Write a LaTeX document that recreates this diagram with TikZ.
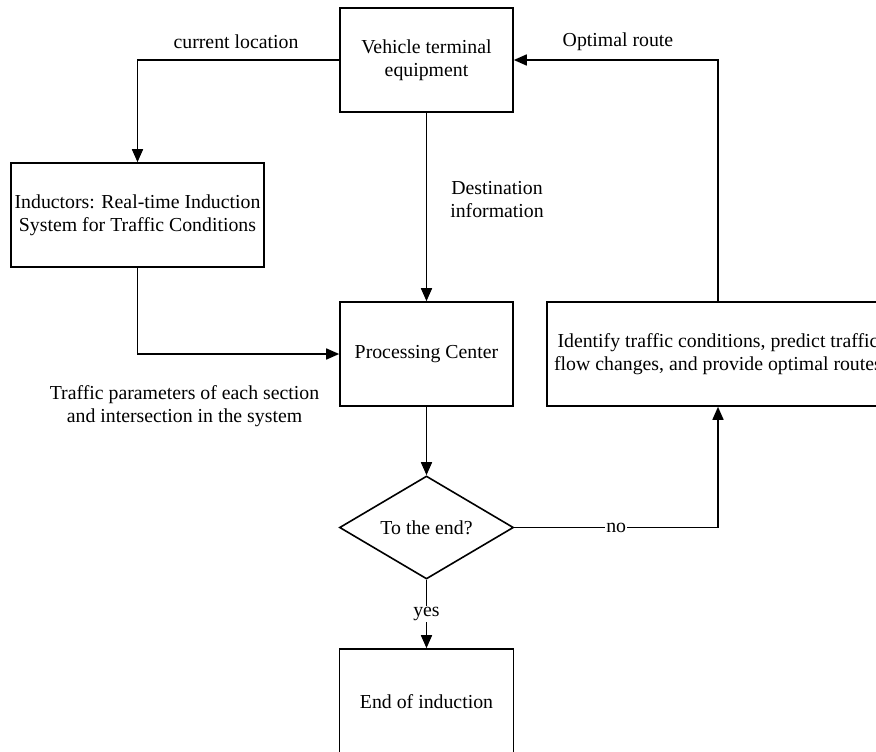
\documentclass[tikz,border=0pt]{standalone}
\usepackage{fontspec}
\setmainfont{Liberation Serif}
\usetikzlibrary{shapes.geometric,arrows.meta}
\begin{document}
\begin{tikzpicture}[x=1pt,y=-1pt,
  font=\fontsize{19.8}{23}\selectfont,
  box/.style={draw,line width=1.6pt,align=center,inner sep=2pt},
  dia/.style={draw,line width=1.6pt,diamond,aspect=1.69,minimum width=174pt,minimum height=103pt,inner sep=0pt},
  arr/.style={line width=1.6pt,-{Triangle[length=13pt,width=11pt]}},
  lab/.style={align=center,inner sep=1pt}]
\clip (0,0) rectangle (876,752);
\fill[white] (0,0) rectangle (876,752);
\node[box,minimum width=173pt,minimum height=104pt] (veh) at (426.5,60) {Vehicle terminal\\equipment};
\node[box,minimum width=253pt,minimum height=104pt] (ind) at (137.5,215) {Inductors: Real-time Induction\\System for Traffic Conditions};
\node[box,minimum width=173pt,minimum height=104pt] (proc) at (426.5,354) {Processing Center};
\node[box,minimum width=342pt,minimum height=104pt] (iden) at (718,354) {Identify traffic conditions, predict traffic\\flow changes, and provide optimal routes};
\node[dia] (dec) at (426.5,527.5) {To the end?};
\node[box,minimum width=174pt,minimum height=106pt] (endb) at (426.5,702) {End of induction};

\node[lab] (lcur) at (236,42) {current location};
\node[lab] (lopt) at (618,42) {Optimal route};
\node[lab] (ldest) at (497,199.5) {Destination\\information};
\node[lab] (ltraf) at (184.5,406) {Traffic parameters of each section\\and intersection in the system};

\draw[arr] (veh.west) -| (ind.north);
\draw[arr] (veh.south) -- (proc.north);
\draw[arr] (ind.south) |- (proc.west);
\draw[arr] (proc.south) -- (dec.north);
\draw[arr] (dec.east) -| node[pos=0.25,fill=white,inner sep=1pt] (lno) {no} (iden.south);
\draw[arr] (dec.south) -- node[midway,fill=white,inner sep=1pt] (lyes) {yes} (endb.north);
\draw[arr] (iden.north) |- (veh.east);
\end{tikzpicture}
\end{document}
